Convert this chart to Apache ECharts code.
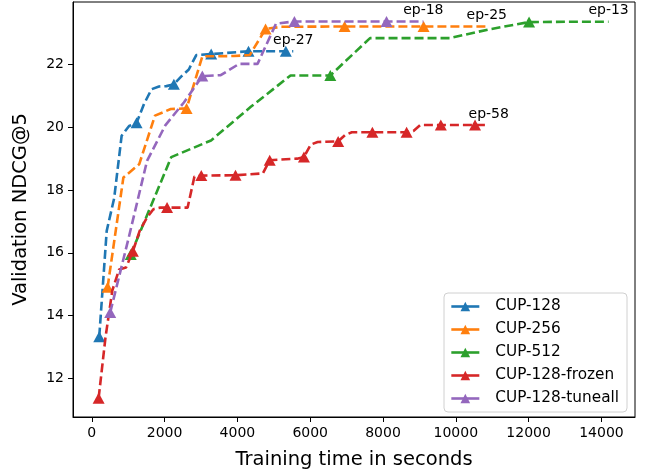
<!DOCTYPE html>
<html>
<head>
<meta charset="utf-8">
<script src="https://cdn.jsdelivr.net/npm/echarts@6/dist/echarts.min.js"></script>
<style>html,body{margin:0;padding:0;background:#fff}#c{width:650px;height:475px}</style>
</head>
<body>
<div id="c"></div>
<script>
// ---- data ----
const seriesNames = ['CUP-128', 'CUP-256', 'CUP-512', 'CUP-128-frozen', 'CUP-128-tuneall'];
const seriesColors = ['#1f77b4', '#ff7f0e', '#2ca02c', '#d62728', '#9467bd'];
const endLabels = ['ep-27', 'ep-25', 'ep-13', 'ep-58', 'ep-18'];

const cup128Time = [205, 410, 615, 820, 1025, 1230, 1435, 1640, 1845, 2050, 2255, 2460, 2665, 2870, 3280, 4305, 5330, 5535];
const cup128Val  = [13.33, 16.7, 17.74, 19.73, 20.04, 20.14, 20.74, 21.21, 21.3, 21.31, 21.37, 21.62, 21.84, 22.3, 22.33, 22.42, 22.42, 22.42];
const cup128Mark = [0, 5, 10, 14, 15, 16];

const cup256Time = [434, 868, 1302, 1736, 2170, 2604, 3038, 3472, 3906, 4340, 4774, 5208, 6944, 9114, 10850];
const cup256Val  = [14.9, 18.4, 18.82, 20.37, 20.58, 20.6, 22.26, 22.26, 22.27, 22.3, 23.13, 23.2, 23.21, 23.21, 23.21];
const cup256Mark = [0, 5, 10, 12, 13];

const cup512Time = [1070, 2184, 3276, 4368, 5460, 6552, 7644, 8736, 9828, 10920, 12012, 13104, 14196];
const cup512Val  = [15.95, 19.05, 19.58, 20.65, 21.65, 21.65, 22.84, 22.84, 22.84, 23.12, 23.35, 23.36, 23.36];
const cup512Mark = [0, 5, 10];

const frozenTime = [188, 376, 564, 752, 940, 1128, 1316, 1504, 1692, 1880, 2068, 2632, 2820, 3008, 3948, 4700, 4888, 5640, 5828, 6016, 6204, 6768, 6956, 7144, 7708, 8648, 8836, 9024, 9588, 10528, 10904];
const frozenVal  = [11.37, 13.3, 14.8, 15.47, 15.53, 16.05, 16.7, 17.1, 17.39, 17.44, 17.44, 17.44, 18.43, 18.46, 18.47, 18.53, 18.95, 19.0, 19.05, 19.45, 19.53, 19.55, 19.75, 19.84, 19.84, 19.84, 19.88, 20.07, 20.07, 20.07, 20.07];
const frozenMark = [0, 5, 10, 13, 14, 16, 18, 21, 24, 25, 28, 29];

const tuneallTime = [506, 1012, 1518, 2024, 2530, 3036, 3542, 4048, 4554, 5060, 5566, 8096, 9108];
const tuneallVal  = [14.1, 16.47, 18.93, 20.07, 20.79, 21.63, 21.66, 22.02, 22.02, 23.3, 23.37, 23.37, 23.37];
const tuneallMark = [0, 5, 10, 11];

const xTicks = [0, 2000, 4000, 6000, 8000, 10000, 12000, 14000];
const yTicks = [12, 14, 16, 18, 20, 22];

const allTimes = [cup128Time, cup256Time, cup512Time, frozenTime, tuneallTime];
const allVals = [cup128Val, cup256Val, cup512Val, frozenVal, tuneallVal];
const allMarks = [cup128Mark, cup256Mark, cup512Mark, frozenMark, tuneallMark];

// ---- build ----
const FONT = 'DejaVu Sans';
function buildData(times, vals, marks, endLabel) {
  return times.map((t, i) => {
    const item = { value: [t, vals[i]] };
    const isMark = marks.indexOf(i) >= 0;
    if (!isMark) item.symbol = 'none';
    if (i === times.length - 1) {
      if (!isMark) { item.symbol = 'circle'; item.symbolSize = 0.01; }
      item.label = {
        show: true, formatter: endLabel, position: 'top', distance: 4,
        color: '#000', fontSize: 14, fontFamily: FONT
      };
    }
    return item;
  });
}

const series = seriesNames.map((name, k) => ({
  name: name,
  type: 'line',
  data: buildData(allTimes[k], allVals[k], allMarks[k], endLabels[k]),
  symbol: 'triangle',
  symbolSize: [12, 11],
  showSymbol: true,
  color: seriesColors[k],
  lineStyle: { width: 2.6, type: [9, 4], color: seriesColors[k] },
  itemStyle: { color: seriesColors[k] },
  label: { show: false },
  emphasis: { disabled: true },
  z: 2 + k
}));

const plain = v => String(v);

const chart = echarts.init(document.getElementById('c'), null, { renderer: 'canvas' });
chart.setOption({
  animation: false,
  backgroundColor: '#fff',
  textStyle: { fontFamily: FONT },
  grid: { left: 73, right: 15, top: 2, bottom: 54, show: true, borderColor: '#000', borderWidth: 1, containLabel: false },
  xAxis: {
    type: 'value', min: -516, max: 14922,
    name: 'Training time in seconds', nameLocation: 'middle', nameGap: 33,
    nameTextStyle: { fontSize: 19.5, color: '#000', fontFamily: FONT },
    axisLine: { show: true, onZero: false, lineStyle: { color: '#000', width: 1 } },
    axisTick: { show: true, length: 5, lineStyle: { color: '#000' }, customValues: xTicks },
    axisLabel: { fontSize: 14, color: '#000', margin: 9, fontFamily: FONT, customValues: xTicks, formatter: plain },
    splitLine: { show: false }
  },
  yAxis: {
    type: 'value', min: 10.77, max: 23.99,
    name: 'Validation NDCG@5', nameLocation: 'middle', nameGap: 42,
    nameTextStyle: { fontSize: 19.5, color: '#000', fontFamily: FONT },
    axisLine: { show: true, onZero: false, lineStyle: { color: '#000', width: 1 } },
    axisTick: { show: true, length: 5, lineStyle: { color: '#000' }, customValues: yTicks },
    axisLabel: { fontSize: 14, color: '#000', margin: 9, fontFamily: FONT, customValues: yTicks, formatter: plain },
    splitLine: { show: false }
  },
  legend: {
    data: seriesNames,
    orient: 'vertical',
    right: 23, top: 293,
    itemWidth: 28, itemHeight: 12, itemGap: 8,
    padding: [6, 8, 6, 6],
    backgroundColor: '#fff',
    borderColor: '#d0d0d0', borderWidth: 1, borderRadius: 4,
    lineStyle: { type: 'solid', width: 2.6 },
    textStyle: { fontSize: 15.3, color: '#000', fontFamily: FONT, padding: [0, 0, 0, 11] }
  },
  series: series
});
</script>
</body>
</html>
